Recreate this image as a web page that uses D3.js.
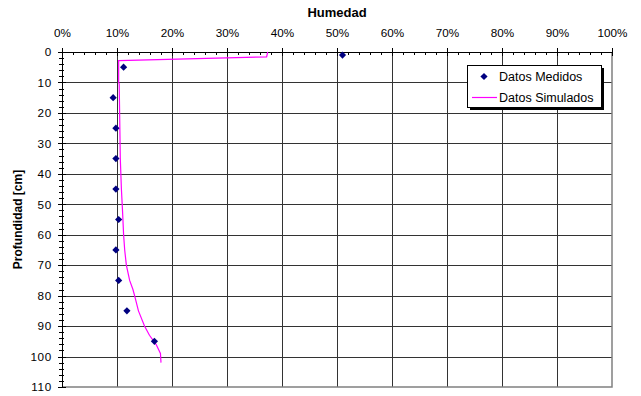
<!DOCTYPE html>
<html>
<head>
<meta charset="utf-8">
<script src="https://cdn.jsdelivr.net/npm/d3@7"></script>
<style>
  body { margin: 0; background: #fff; }
  svg { display: block; font-family: "Liberation Sans", Arial, sans-serif; }
</style>
</head>
<body>
<svg id="chart" width="641" height="396"></svg>
<script>
// measured points
var medDepth = [1, 5, 15, 25, 35, 45, 55, 65, 75, 85, 95];
var medHum = [0.51, 0.112, 0.093, 0.098, 0.098, 0.098, 0.103, 0.098, 0.103, 0.118, 0.168];

// simulated profile
var simDepth = [0, 1.6, 2.8, 10, 10.5, 35, 45, 52, 60, 65, 70, 75, 78, 80, 85, 90, 93, 96, 99, 102];
var simHum = [0.374, 0.372, 0.103, 0.103, 0.104, 0.106, 0.108, 0.110, 0.112, 0.114, 0.117, 0.123, 0.129, 0.132, 0.139, 0.150, 0.159, 0.171, 0.179, 0.180];

var xTicks = [0, 0.1, 0.2, 0.3, 0.4, 0.5, 0.6, 0.7, 0.8, 0.9, 1];
var yTicks = [0, 10, 20, 30, 40, 50, 60, 70, 80, 90, 100, 110];
var seriesNames = ["Datos Medidos", "Datos Simulados"];

var size = { left: 62, right: 612, top: 52, bottom: 387 };

var svg = d3.select("#chart");

var x = d3.scaleLinear().domain([0, 1]).range([size.left, size.right]);
var y = d3.scaleLinear().domain([0, 110]).range([size.top, size.bottom]);

// grid
svg.append("g")
  .attr("transform", "translate(0," + size.bottom + ")")
  .call(d3.axisBottom(x).tickValues(xTicks.slice(1, -1)).tickSize(-(size.bottom - size.top)).tickFormat(""))
  .call(function (g) { g.select(".domain").remove(); })
  .selectAll("line").attr("stroke", "#333").attr("shape-rendering", "crispEdges");

svg.append("g")
  .attr("transform", "translate(" + size.left + ",0)")
  .call(d3.axisLeft(y).tickValues(yTicks.slice(1, -1)).tickSize(-(size.right - size.left)).tickFormat(""))
  .call(function (g) { g.select(".domain").remove(); })
  .selectAll("line").attr("stroke", "#333").attr("shape-rendering", "crispEdges");

// plot border right/bottom
svg.append("path")
  .attr("d", "M" + size.right + "," + size.top + "V" + size.bottom + "H" + size.left)
  .attr("fill", "none")
  .attr("stroke", "#808080")
  .attr("stroke-width", 1.5);

// x axis (top)
var minorX = d3.range(0, 101, 2).map(function (d) { return d / 100; });
svg.append("g")
  .attr("transform", "translate(0," + size.top + ")")
  .call(d3.axisTop(x).tickValues(minorX).tickSize(-3).tickFormat(""))
  .call(function (g) { g.select(".domain").remove(); })
  .selectAll("line").attr("shape-rendering", "crispEdges");

var xAxis = svg.append("g")
  .attr("transform", "translate(0," + size.top + ")")
  .call(d3.axisTop(x).tickValues(xTicks).tickSize(4).tickPadding(11).tickFormat(d3.format(".0%")));
xAxis.selectAll("line").attr("y2", -4).attr("y1", 4).attr("shape-rendering", "crispEdges");
xAxis.select(".domain").attr("d", "M" + size.left + ",0.5H" + size.right).attr("shape-rendering", "crispEdges");
xAxis.selectAll("text").attr("font-size", "11.7px").attr("fill", "#000").style("font-family", "Liberation Sans, Arial, sans-serif");

// y axis (left)
var minorY = d3.range(0, 111, 2);
svg.append("g")
  .attr("transform", "translate(" + size.left + ",0)")
  .call(d3.axisLeft(y).tickValues(minorY).tickSize(3).tickFormat(""))
  .call(function (g) { g.select(".domain").remove(); })
  .selectAll("line").attr("x2", -3).attr("x1", 2).attr("shape-rendering", "crispEdges");

var yAxis = svg.append("g")
  .attr("transform", "translate(" + size.left + ",0)")
  .call(d3.axisLeft(y).tickValues(yTicks).tickSize(4).tickPadding(6));
yAxis.selectAll("line").attr("x2", -4).attr("x1", 4).attr("shape-rendering", "crispEdges");
yAxis.select(".domain").attr("d", "M0.5," + size.top + "V" + size.bottom).attr("shape-rendering", "crispEdges");
yAxis.selectAll("text").attr("font-size", "11.7px").attr("letter-spacing", "0.7px")
  .attr("fill", "#000").style("font-family", "Liberation Sans, Arial, sans-serif");

// titles
svg.append("text")
  .attr("x", (size.left + size.right) / 2)
  .attr("y", 17)
  .attr("text-anchor", "middle")
  .attr("font-weight", "bold")
  .attr("font-size", "13px")
  .text("Humedad");

svg.append("text")
  .attr("transform", "translate(22," + (size.top + size.bottom) / 2 + ") rotate(-90)")
  .attr("text-anchor", "middle")
  .attr("font-weight", "bold")
  .attr("font-size", "12px")
  .text("Profundidad [cm]");

// simulated line
var simData = simDepth.map(function (d, i) { return { depth: d, hum: simHum[i] }; });
var line = d3.line()
  .x(function (d) { return x(d.hum); })
  .y(function (d) { return y(d.depth); });

svg.append("path")
  .datum(simData)
  .attr("d", line)
  .attr("fill", "none")
  .attr("stroke", "#ff00ff")
  .attr("stroke-width", 1.2);

// measured points
var medData = medDepth.map(function (d, i) { return { depth: d, hum: medHum[i] }; });
var diamond = d3.symbol(d3.symbolSquare, 26);
svg.selectAll(".pt")
  .data(medData)
  .enter()
  .append("path")
  .attr("class", "pt")
  .attr("d", diamond)
  .attr("transform", function (d) { return "translate(" + x(d.hum) + "," + y(d.depth) + ") rotate(45)"; })
  .attr("fill", "#000080");

// legend
var lg = svg.append("g").attr("transform", "translate(467,65)");
lg.append("rect").attr("x", 3).attr("y", 3).attr("width", 134).attr("height", 42).attr("fill", "#000");
lg.append("rect").attr("x", 0.5).attr("y", 0.5).attr("width", 134).attr("height", 42)
  .attr("fill", "#fff").attr("stroke", "#000").attr("stroke-width", 1);

lg.append("path")
  .attr("d", diamond)
  .attr("transform", "translate(17,11.5) rotate(45)")
  .attr("fill", "#000080");
lg.append("line")
  .attr("x1", 5).attr("x2", 30).attr("y1", 32.5).attr("y2", 32.5)
  .attr("stroke", "#ff00ff").attr("stroke-width", 1.2);

lg.selectAll(".lt")
  .data(seriesNames)
  .enter()
  .append("text")
  .attr("class", "lt")
  .attr("x", 32)
  .attr("y", function (d, i) { return 16 + i * 21; })
  .attr("font-size", "12.5px")
  .text(function (d) { return d; });
</script>
</body>
</html>
